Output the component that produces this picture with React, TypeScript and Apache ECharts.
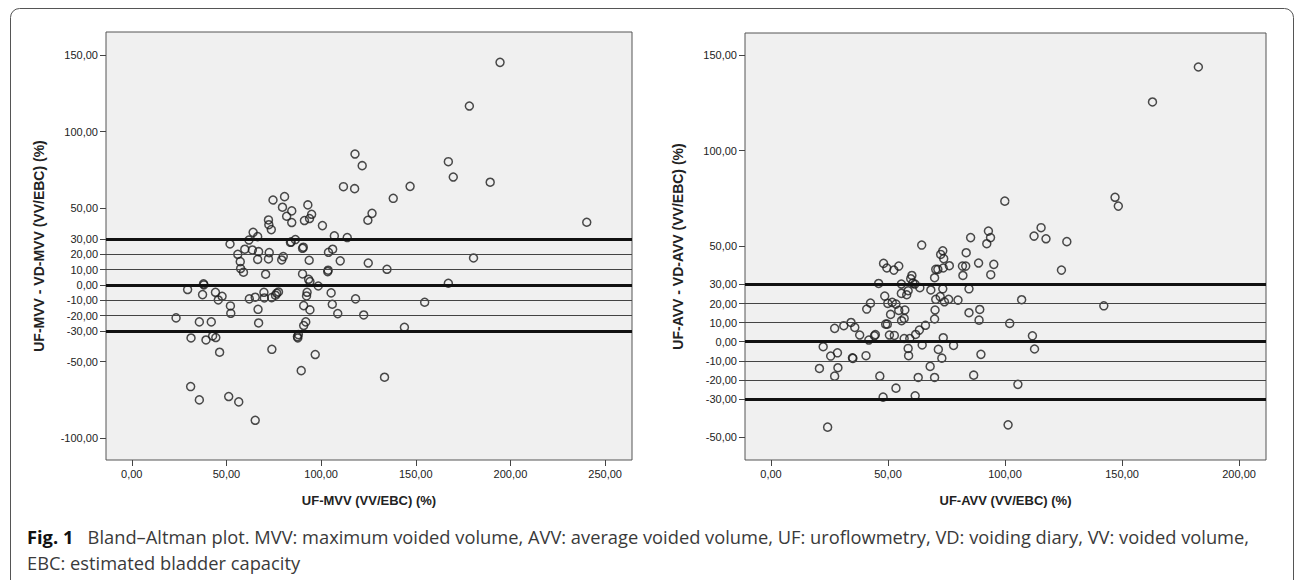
import React, { useEffect, useRef } from "react";
import * as echarts from "echarts";

// Left panel: UF-MVV (x) vs UF-MVV - VD-MVV (y)
const mvvPoints: [number, number][] = [
  [194.5, 145.2], [178.3, 116.7], [117.9, 85.4], [121.7, 77.8], [167.2, 80.4],
  [169.8, 70.4], [189.3, 67.0], [111.8, 64.1], [117.7, 62.8], [147.0, 64.3],
  [138.1, 56.5], [126.9, 46.7], [124.7, 42.2], [240.3, 40.9], [80.7, 57.6],
  [74.6, 55.4], [93.0, 52.2], [79.6, 50.7], [84.5, 48.3], [81.8, 44.8],
  [84.5, 40.7], [95.0, 46.1], [93.9, 43.3], [91.2, 42.0], [72.2, 42.4],
  [72.4, 39.3], [73.7, 36.1], [100.7, 38.7], [64.1, 34.3], [66.5, 31.5],
  [61.9, 29.3], [107.0, 32.0], [113.8, 30.9], [86.4, 29.6], [83.8, 27.8],
  [84.2, 28.0], [51.9, 26.7], [90.6, 24.6], [90.2, 23.9], [59.7, 23.3],
  [63.7, 22.8], [67.0, 21.7], [72.6, 21.1], [106.1, 23.3], [103.9, 21.3],
  [56.0, 20.0], [80.0, 18.5], [79.2, 16.3], [72.2, 17.0], [66.5, 16.7],
  [57.3, 15.2], [93.7, 16.1], [110.1, 15.7], [124.9, 14.3], [57.5, 10.7],
  [59.0, 8.3], [103.7, 9.6], [103.5, 8.7], [134.8, 10.2], [180.5, 17.6],
  [70.7, 7.0], [90.2, 7.2], [93.4, 3.7], [94.1, 2.2], [98.5, -0.7],
  [37.9, 0.7], [38.1, 0.0], [167.2, 1.1], [29.5, -3.0], [37.4, -6.3],
  [44.2, -4.8], [47.7, -7.4], [45.7, -9.8], [62.1, -9.1], [65.2, -8.0],
  [69.8, -4.8], [70.0, -8.5], [73.9, -8.3], [76.6, -5.4], [77.5, -4.6],
  [75.9, -6.7], [92.6, -4.8], [92.3, -7.2], [105.3, -5.2], [118.2, -9.1],
  [154.7, -11.3], [52.1, -13.7], [52.3, -18.5], [90.8, -13.5], [105.9, -12.6],
  [66.7, -15.9], [94.1, -16.3], [108.8, -18.7], [122.5, -19.6], [23.4, -21.5],
  [35.7, -24.1], [42.0, -24.1], [67.0, -24.8], [91.9, -24.1], [90.8, -26.5],
  [144.0, -27.6], [31.3, -34.6], [39.2, -35.9], [42.7, -33.3], [44.4, -34.3],
  [87.5, -33.7], [88.0, -32.4], [87.7, -34.6], [46.4, -43.9], [74.0, -42.0],
  [96.9, -45.4], [89.5, -55.9], [133.5, -60.2], [31.1, -66.3], [35.7, -75.0],
  [51.2, -72.8], [56.5, -76.3], [65.2, -88.3],
];

// Right panel: UF-AVV (x) vs UF-AVV - VD-AVV (y)
const avvPoints: [number, number][] = [
  [182.6, 143.8], [163.0, 125.5], [99.9, 73.6], [147.0, 75.6], [148.4, 71.0],
  [115.4, 59.7], [92.9, 57.9], [112.4, 55.3], [117.5, 53.9], [93.8, 54.5],
  [85.3, 54.5], [126.4, 52.4], [92.2, 51.3], [64.4, 50.6], [73.4, 47.6],
  [72.5, 45.7], [83.4, 46.6], [73.8, 43.5], [48.1, 41.0], [49.5, 38.6],
  [52.5, 37.5], [54.6, 39.6], [70.4, 37.9], [71.3, 37.9], [73.6, 38.6],
  [76.2, 39.8], [81.8, 39.6], [83.2, 39.6], [88.7, 41.2], [95.2, 40.5],
  [124.1, 37.5], [93.9, 35.1], [82.0, 34.7], [60.2, 34.7], [59.7, 33.0],
  [69.9, 33.5], [60.6, 30.7], [61.5, 30.2], [46.0, 30.5], [55.7, 30.2],
  [63.6, 28.3], [68.3, 27.1], [73.4, 27.7], [84.6, 27.7], [58.6, 26.7],
  [55.7, 25.3], [58.0, 24.6], [48.6, 23.9], [70.4, 22.2], [72.3, 23.6],
  [74.1, 20.9], [75.9, 22.2], [79.9, 21.8], [107.1, 22.0], [142.2, 18.8],
  [42.5, 20.2], [40.9, 17.1], [51.8, 20.6], [53.4, 19.7], [49.9, 20.1],
  [51.1, 14.3], [54.6, 16.4], [57.2, 16.6], [70.1, 16.6], [84.6, 15.2],
  [89.2, 16.9], [56.9, 12.2], [55.8, 11.0], [69.9, 11.9], [88.9, 11.3],
  [34.2, 10.1], [31.1, 8.4], [27.2, 7.0], [35.8, 7.5], [49.0, 9.2],
  [49.7, 9.2], [66.0, 8.6], [63.4, 6.1], [102.0, 9.6], [37.9, 3.5],
  [44.6, 3.7], [44.2, 3.1], [50.6, 3.5], [52.7, 3.3], [41.8, 0.9],
  [56.9, 1.7], [59.3, 1.7], [61.8, 3.8], [73.6, 2.1], [111.7, 3.1],
  [22.3, -2.6], [25.5, -7.5], [28.4, -5.8], [34.8, -8.4], [35.0, -8.7],
  [40.6, -7.3], [58.6, -3.5], [58.8, -7.3], [64.6, -1.7], [71.5, -4.0],
  [73.0, -8.6], [78.0, -1.9], [89.7, -6.6], [112.6, -3.8], [20.7, -14.0],
  [28.6, -13.6], [27.2, -18.0], [46.5, -18.0], [62.9, -18.7], [69.9, -18.7],
  [68.0, -12.9], [86.6, -17.5], [53.4, -24.3], [105.5, -22.3], [47.9, -29.0],
  [61.6, -28.3], [24.2, -44.7], [101.3, -43.5],
];

const leftXTicks = [0, 50, 100, 150, 200, 250];
const rightXTicks = [0, 50, 100, 150, 200];
const leftYTicks = [-100, -50, -30, -20, -10, 0, 10, 20, 30, 50, 100, 150];
const rightYTicks = [-50, -30, -20, -10, 0, 10, 20, 30, 50, 100, 150];
const thickLines = [-30, 0, 30];
const thinLines = [-20, -10, 10, 20];

const titles = {
  leftX: "UF-MVV (VV/EBC) (%)",
  leftY: "UF-MVV - VD-MVV (VV/EBC) (%)",
  rightX: "UF-AVV (VV/EBC) (%)",
  rightY: "UF-AVV - VD-AVV (VV/EBC) (%)",
};

const captionBold = "Fig. 1";
const captionLine1 =
  "Bland–Altman plot. MVV: maximum voided volume, AVV: average voided volume, UF: uroflowmetry, VD: voiding diary, VV: voided volume,";
const captionLine2 = "EBC: estimated bladder capacity";

const fmt = (v: number) => v.toFixed(2).replace(".", ",");
const AXIS_FONT = "'Liberation Sans', Arial, sans-serif";
const CAPTION_FONT = "'Open Sans', sans-serif";

function xAxisCfg(gridIndex: number, min: number, max: number, ticks: number[], name: string) {
  return {
    type: "value",
    gridIndex,
    position: "bottom",
    min,
    max,
    name,
    nameLocation: "middle",
    nameGap: 34,
    nameTextStyle: { fontFamily: AXIS_FONT, fontWeight: "bold", fontSize: 13, color: "#222" },
    axisLine: { show: false, onZero: false },
    axisTick: { show: true, length: 6, lineStyle: { color: "#444" }, customValues: ticks },
    axisLabel: {
      show: true,
      margin: 8,
      fontFamily: AXIS_FONT,
      fontSize: 11,
      color: "#222",
      customValues: ticks,
      formatter: (v: number) => fmt(v),
    },
    splitLine: { show: false },
  };
}

function yAxisCfg(gridIndex: number, min: number, max: number, ticks: number[], name: string) {
  return {
    type: "value",
    gridIndex,
    position: "left",
    min,
    max,
    name,
    nameLocation: "middle",
    nameGap: 60,
    nameTextStyle: { fontFamily: AXIS_FONT, fontWeight: "bold", fontSize: 14, color: "#222" },
    axisLine: { show: false, onZero: false },
    axisTick: { show: true, length: 6, lineStyle: { color: "#444" }, customValues: ticks },
    axisLabel: {
      show: true,
      margin: 8,
      fontFamily: AXIS_FONT,
      fontSize: 11,
      color: "#222",
      customValues: ticks,
      formatter: (v: number) => fmt(v),
    },
    splitLine: { show: false },
  };
}

function refLines() {
  return {
    silent: true,
    symbol: ["none", "none"],
    label: { show: false },
    emphasis: { disabled: true },
    data: [
      ...thickLines.map((v) => ({ yAxis: v, lineStyle: { color: "#111", width: 3, type: "solid" } })),
      ...thinLines.map((v) => ({ yAxis: v, lineStyle: { color: "#444", width: 1.2, type: "solid" } })),
    ],
  };
}

const pointStyle = {
  color: "rgba(0,0,0,0)",
  borderColor: "#1e1e1e",
  borderWidth: 1.5,
};

export default function App() {
  const ref = useRef<HTMLDivElement>(null);

  useEffect(() => {
    if (!ref.current) return;
    const chart = echarts.init(ref.current, null, { renderer: "svg" });
    chart.setOption({
      animation: false,
      backgroundColor: "#ffffff",
      grid: [
        {
          left: 106, top: 32, width: 526, height: 428,
          show: true, backgroundColor: "#f0f0f0", borderColor: "#555", borderWidth: 1,
        },
        {
          left: 745, top: 33, width: 521, height: 427,
          show: true, backgroundColor: "#f0f0f0", borderColor: "#555", borderWidth: 1,
        },
      ],
      xAxis: [
        xAxisCfg(0, -13.6, 264.2, leftXTicks, titles.leftX),
        xAxisCfg(1, -11.1, 211.5, rightXTicks, titles.rightX),
      ],
      yAxis: [
        yAxisCfg(0, -114.2, 165, leftYTicks, titles.leftY),
        yAxisCfg(1, -61.9, 161.6, rightYTicks, titles.rightY),
      ],
      series: [
        {
          type: "scatter",
          xAxisIndex: 0,
          yAxisIndex: 0,
          data: mvvPoints,
          symbol: "circle",
          symbolSize: 8,
          itemStyle: pointStyle,
          markLine: refLines(),
          z: 3,
        },
        {
          type: "scatter",
          xAxisIndex: 1,
          yAxisIndex: 1,
          data: avvPoints,
          symbol: "circle",
          symbolSize: 8,
          itemStyle: pointStyle,
          markLine: refLines(),
          z: 3,
        },
      ],
      graphic: [
        {
          type: "rect",
          silent: true,
          shape: { x: 10.5, y: 8.5, width: 1283, height: 640, r: 9 },
          style: { fill: "none", stroke: "#555", lineWidth: 1 },
        },
        {
          type: "text",
          left: 27,
          top: 527,
          style: {
            text: `{b|${captionBold}}   ${captionLine1}`,
            font: `18.3px ${CAPTION_FONT}`,
            fill: "#3a3a3a",
            rich: {
              b: { fontFamily: CAPTION_FONT, fontWeight: "bold", fontSize: 18.3, fill: "#111" },
            },
          },
        },
        {
          type: "text",
          left: 27,
          top: 553,
          style: {
            text: captionLine2,
            font: `18.3px ${CAPTION_FONT}`,
            fill: "#3a3a3a",
          },
        },
      ],
    });
    return () => chart.dispose();
  }, []);

  return (
    <div
      ref={ref}
      style={{ position: "absolute", left: 0, top: 0, width: 1295, height: 580, background: "#fff" }}
    />
  );
}
